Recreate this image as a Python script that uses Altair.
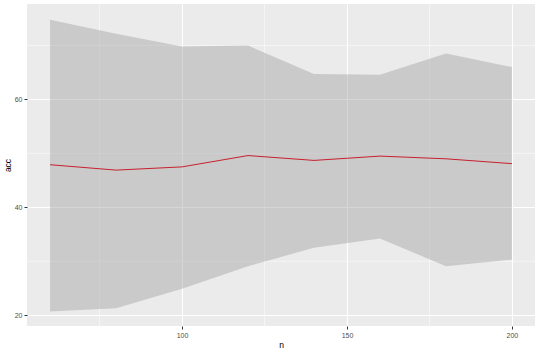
import altair as alt
import pandas as pd

n_vals = [60, 80, 100, 120, 140, 160, 180, 200]
acc_vals = [47.9, 46.9, 47.5, 49.6, 48.7, 49.5, 49.0, 48.1]
lower_vals = [20.7, 21.3, 24.9, 29.1, 32.5, 34.2, 29.1, 30.3]
upper_vals = [74.8, 72.2, 69.8, 70.0, 64.7, 64.6, 68.5, 66.0]

x_major = [100, 150, 200]
x_minor = [75, 125, 175]
y_major = [20, 40, 60]
y_minor = [30, 50, 70]

df = pd.DataFrame({"n": n_vals, "acc": acc_vals, "lo": lower_vals, "hi": upper_vals})

xscale = alt.Scale(domain=[53, 207], nice=False, zero=False)
yscale = alt.Scale(domain=[18.0, 77.7], nice=False, zero=False)

xaxis = alt.Axis(values=x_major, title="n", grid=True, gridColor="white", gridWidth=1.1,
                 domain=False, tickColor="#333333", tickSize=3, tickWidth=1,
                 labelFontSize=7, labelColor="#4D4D4D", labelPadding=2,
                 titleFontSize=8.5, titleFontWeight="normal", titleColor="#000000",
                 titlePadding=2, labelFont="Liberation Sans", titleFont="Liberation Sans")
yaxis = alt.Axis(values=y_major, title="acc", grid=True, gridColor="white", gridWidth=1.1,
                 domain=False, tickColor="#333333", tickSize=3, tickWidth=1,
                 labelFontSize=7, labelColor="#4D4D4D", labelPadding=2,
                 titleFontSize=8.5, titleFontWeight="normal", titleColor="#000000",
                 titlePadding=2, labelFont="Liberation Sans", titleFont="Liberation Sans")

xminor = alt.Chart(pd.DataFrame({"v": x_minor})).mark_rule(color="white", strokeWidth=0.5).encode(
    x=alt.X("v:Q", scale=xscale, axis=xaxis))
yminor = alt.Chart(pd.DataFrame({"v": y_minor})).mark_rule(color="white", strokeWidth=0.5).encode(
    y=alt.Y("v:Q", scale=yscale, axis=yaxis))

band = alt.Chart(df).mark_area(color="#999999", opacity=0.4).encode(
    x=alt.X("n:Q", scale=xscale, axis=xaxis),
    y=alt.Y("lo:Q", scale=yscale, axis=yaxis),
    y2="hi:Q")

line = alt.Chart(df).mark_line(color="#C8202E", strokeWidth=1).encode(
    x=alt.X("n:Q", scale=xscale, axis=xaxis),
    y=alt.Y("acc:Q", scale=yscale, axis=yaxis))

chart = alt.layer(xminor, yminor, band, line).properties(
    width=508, height=322,
    autosize=alt.AutoSizeParams(type="none"),
    padding={"left": 27, "top": 4, "right": 5, "bottom": 26},
    background="white"
).configure_view(fill="#EBEBEB", stroke=None)

chart.save("out.html", embed_options={"renderer": "svg", "actions": False})
